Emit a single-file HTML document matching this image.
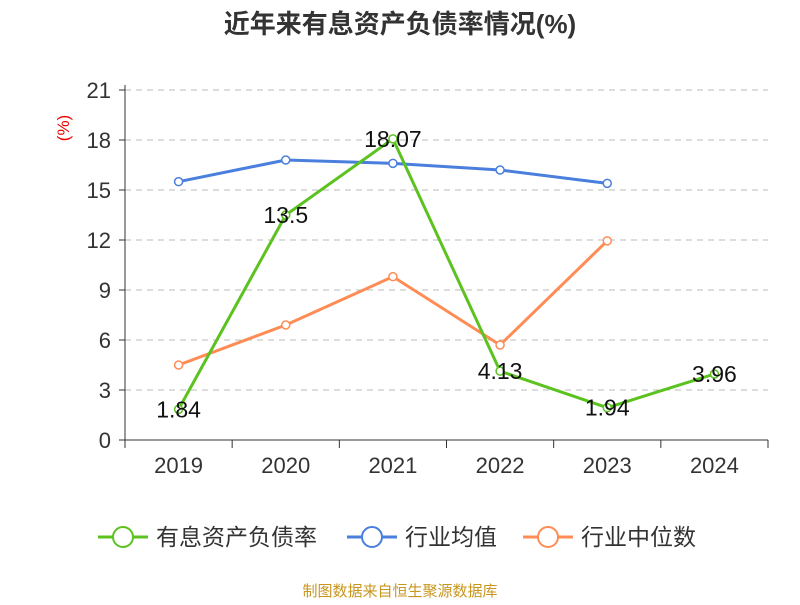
<!DOCTYPE html>
<html><head><meta charset="utf-8"><style>
body{margin:0;background:#fff;width:800px;height:600px;overflow:hidden;font-family:"Liberation Sans","Noto Sans CJK SC",sans-serif}
</style></head><body>
<svg id="c" width="800" height="600" xmlns="http://www.w3.org/2000/svg"></svg>
<script>
const categories=["2019","2020","2021","2022","2023","2024"];
const companyVals=[1.84,13.5,18.07,4.13,1.94,3.96];
const avgVals=[15.5,16.8,16.6,16.2,15.4];
const medianVals=[4.5,6.9,9.8,5.7,11.95];
const yTicks=[0,3,6,9,12,15,18,21];
const NS="http://www.w3.org/2000/svg";
const svg=document.getElementById('c');
const F='"Liberation Sans","Noto Sans CJK SC",sans-serif';
const X0=125,X1=768,Y0=440,Y1=90,YMAX=21;
const bw=(X1-X0)/categories.length;
const x=i=>X0+bw*(i+0.5);
const y=v=>Y0-(v/YMAX)*(Y0-Y1);
function el(t,a,txt){const e=document.createElementNS(NS,t);for(const k in a)e.setAttribute(k,a[k]);if(txt!=null)e.textContent=txt;svg.appendChild(e);return e;}
let e=el('text',{x:400,y:33,'text-anchor':'middle','font-size':26,'font-weight':'bold',fill:'#333','font-family':F},'近年来有息资产负债率情况(%)');


e=el('text',{x:0,y:0,transform:'translate(69,128) rotate(-90)','text-anchor':'middle','font-size':17,fill:'#e00','font-family':F},'(%)');


yTicks.forEach(t=>{
 if(t>0){e=el('line',{x1:X0,x2:X1,y1:y(t),y2:y(t),stroke:'#bbb','stroke-dasharray':'6,5'});
 
 }
 e=el('line',{x1:X0-6,x2:X0,y1:y(t),y2:y(t),stroke:'#333'});
 
 
 e=el('text',{x:X0-14,y:y(t)+8,'text-anchor':'end','font-size':22,fill:'#333','font-family':F},t);
 
 
});
e=el('line',{x1:X0,x2:X0,y1:Y1-5,y2:Y0,stroke:'#333'});


e=el('line',{x1:X0,x2:X1,y1:Y0,y2:Y0,stroke:'#333'});


for(let i=0;i<=categories.length;i++){e=el('line',{x1:X0+bw*i,x2:X0+bw*i,y1:Y0,y2:Y0+8,stroke:'#333'});
 
 }
categories.forEach((c,i)=>{e=el('text',{x:x(i),y:473,'text-anchor':'middle','font-size':22,fill:'#333','font-family':F},c);
 
 });
function series(vals,color,name){
 e=el('polyline',{points:vals.map((v,i)=>x(i)+','+y(v)).join(' '),fill:'none',stroke:color,'stroke-width':3});
 
 
 vals.forEach((v,i)=>{e=el('circle',{cx:x(i),cy:y(v),r:4,fill:'#fff',stroke:color,'stroke-width':1.5});
 
 });
}
series(avgVals,'#4a7fdd','industry-average');
series(medianVals,'#ff8c55','industry-median');
series(companyVals,'#5bc21f','interest-bearing-debt-ratio');
companyVals.forEach((v,i)=>{
 e=el('text',{x:x(i),y:y(v)+8,'text-anchor':'middle','font-size':23,fill:'#111','font-family':F},String(v));
 
 });
const legend=[['有息资产负债率','#5bc21f',98],['行业均值','#4a7fdd',347],['行业中位数','#ff8c55',523]];
legend.forEach(([t,c,lx])=>{
 const g=document.createElementNS(NS,'g');svg.appendChild(g);
 
 
 const a=(tag,at,tx)=>{const q=document.createElementNS(NS,tag);for(const k in at)q.setAttribute(k,at[k]);if(tx)q.textContent=tx;g.appendChild(q);};
 a('line',{x1:lx,x2:lx+50,y1:537,y2:537,stroke:c,'stroke-width':3});
 a('circle',{cx:lx+25,cy:537,r:10,fill:'#fff',stroke:c,'stroke-width':2});
 a('text',{x:lx+58,y:545,'font-size':23,fill:'#333','font-family':F},t);
});
e=el('text',{x:400,y:596,'text-anchor':'middle','font-size':15,fill:'#c8961e','font-family':F},'制图数据来自恒生聚源数据库');


</script>
</body></html>
